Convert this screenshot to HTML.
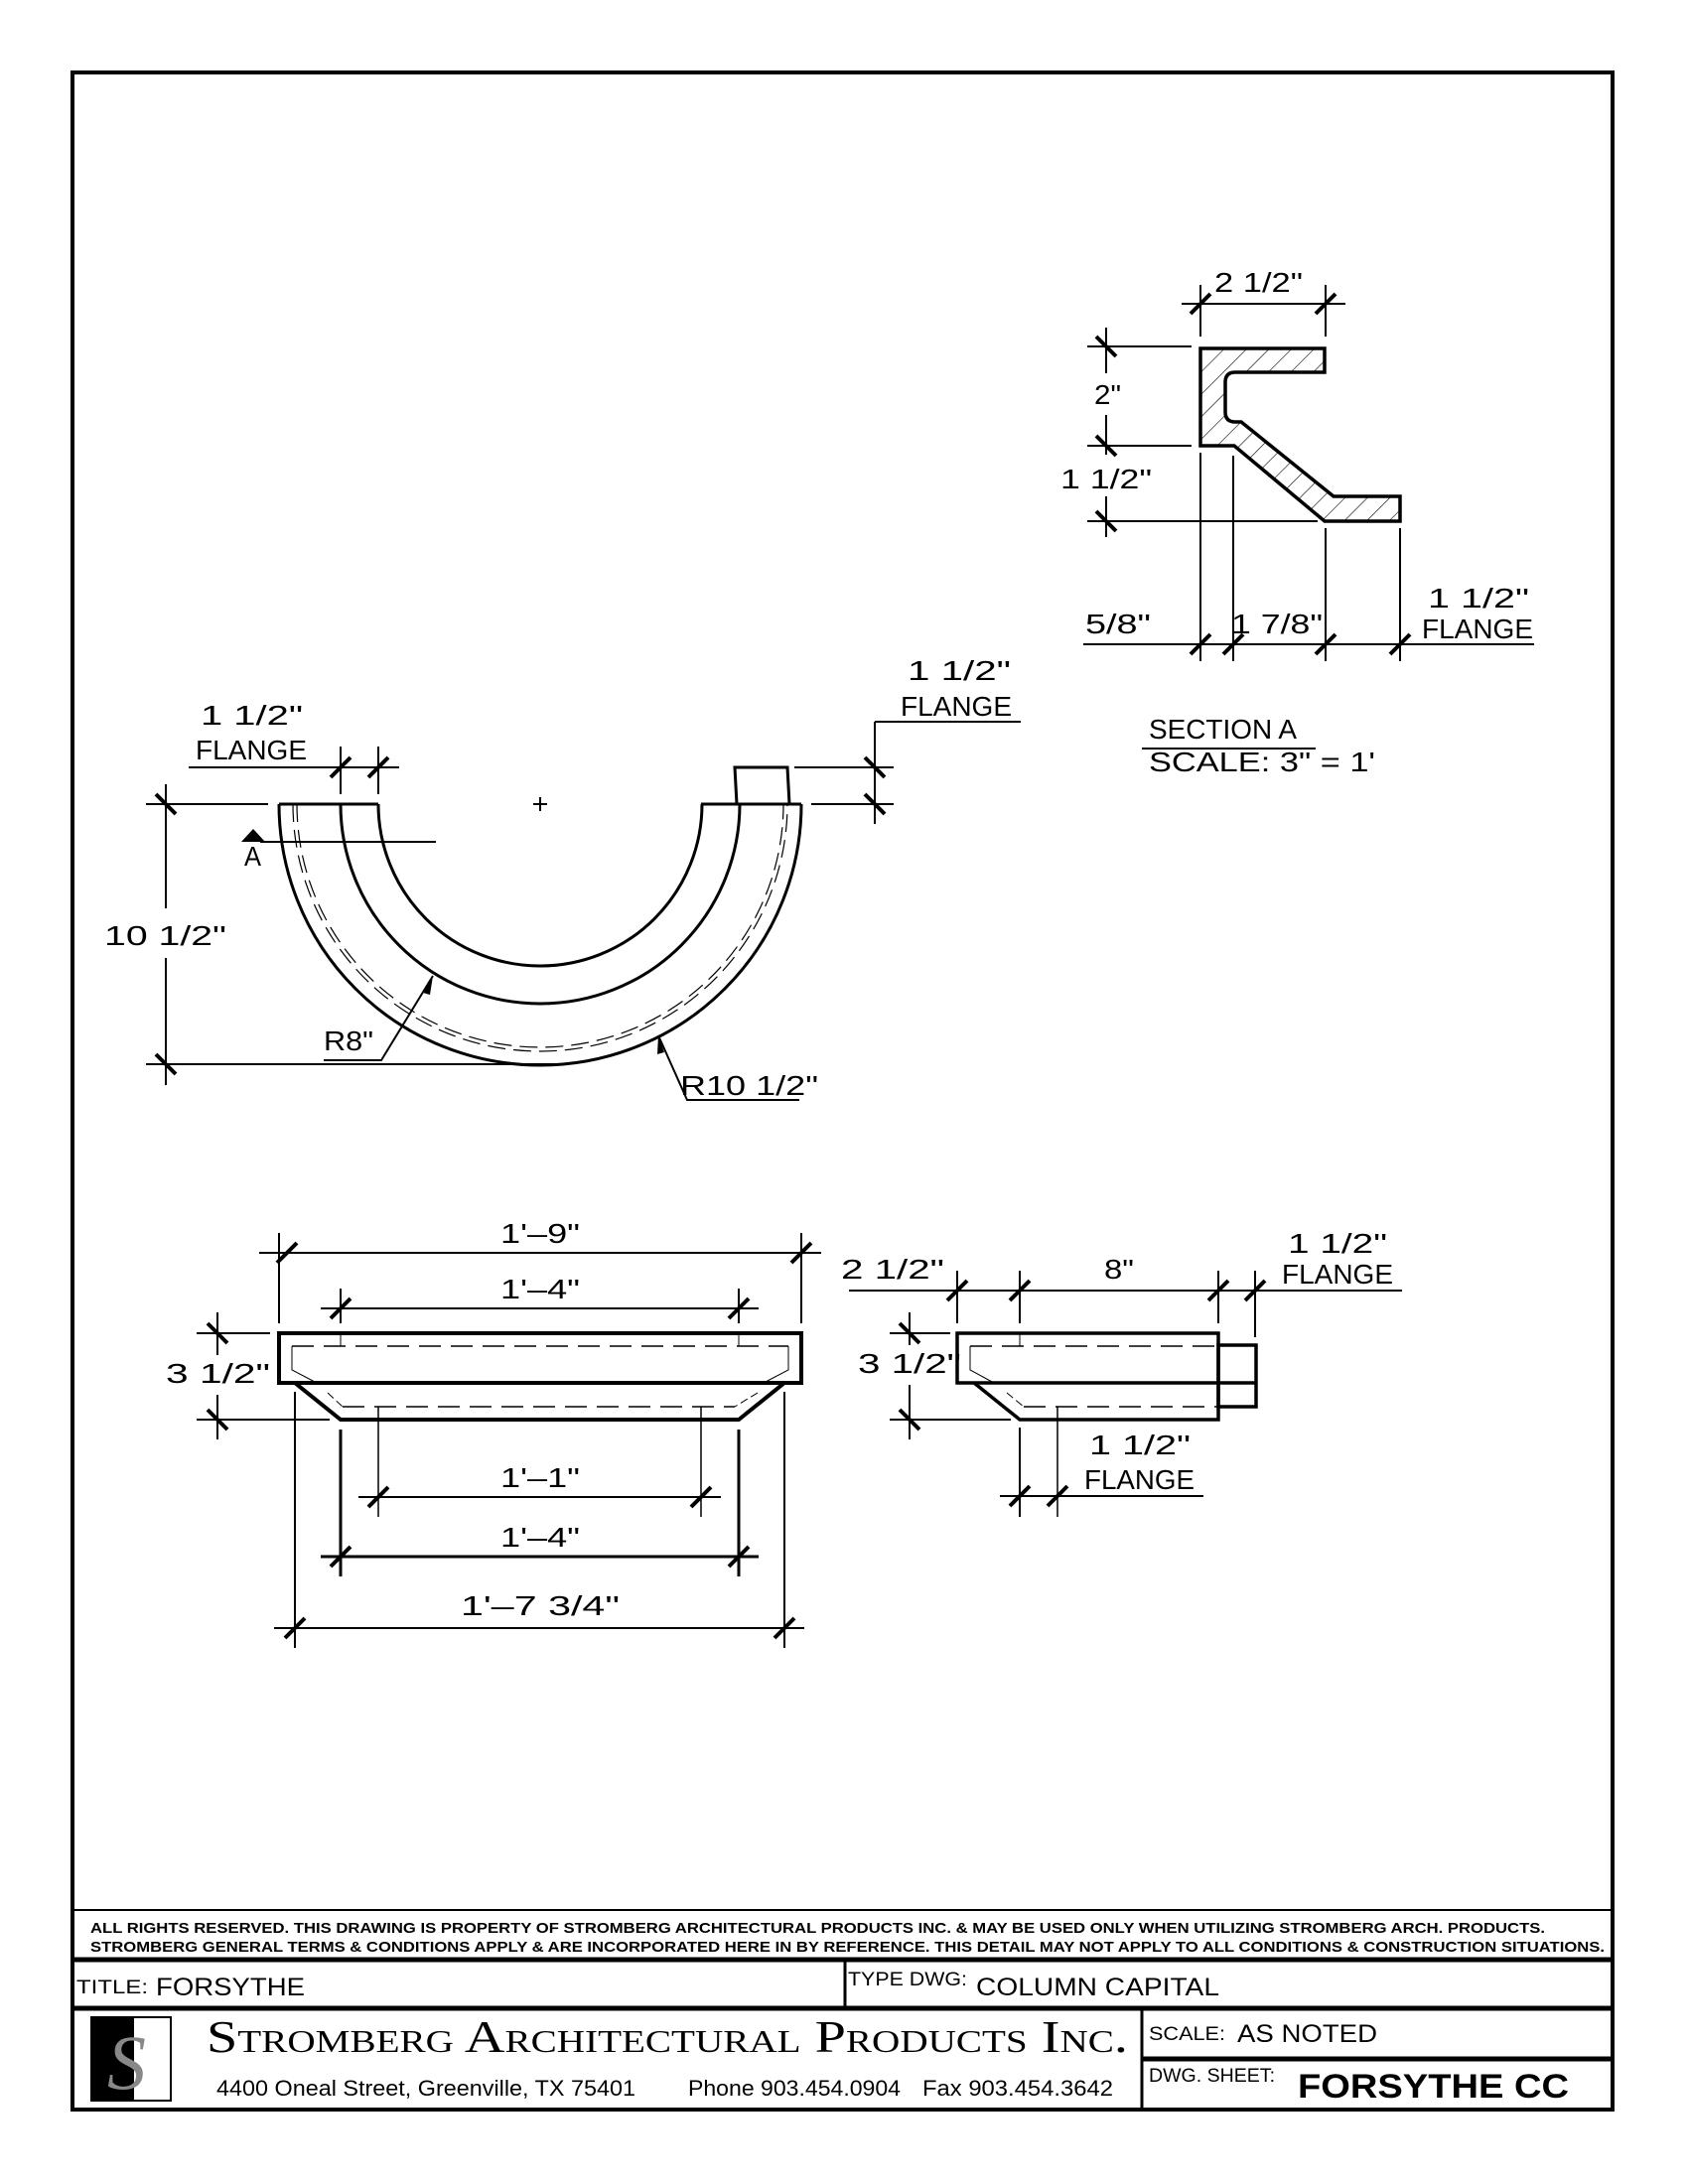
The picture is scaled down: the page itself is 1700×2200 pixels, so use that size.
<!DOCTYPE html>
<html><head><meta charset="utf-8"><style>
html,body{margin:0;padding:0;background:#fff}
svg{display:block}
text{font-family:"Liberation Sans",sans-serif;fill:#000}
.t{font-size:28px}
</style></head><body>
<svg width="1700" height="2200" viewBox="0 0 1700 2200" xmlns="http://www.w3.org/2000/svg">
<defs>
<pattern id="h" width="16" height="16" patternUnits="userSpaceOnUse" patternTransform="rotate(45)">
<line x1="0" y1="0" x2="0" y2="16" stroke="#000" stroke-width="1.2"/>
</pattern>
</defs>
<!-- border -->
<rect x="73" y="73" width="1551" height="2052" fill="none" stroke="#000" stroke-width="4"/>

<g stroke="#000" fill="none" stroke-linecap="butt">
<!-- ===== SECTION A ===== -->
<path d="M1209,351 L1334,351 L1334,375 L1244,375 Q1234,375 1234,385 L1234,415 Q1234,425 1244,425 L1250,425 L1343,500 L1410,500 L1410,525 L1334,525 L1243,449 L1209,449 Z" fill="url(#h)" stroke-width="3.5"/>
<!-- top dim -->
<line x1="1190" y1="306" x2="1355" y2="306" stroke-width="2"/>
<line x1="1209" y1="287" x2="1209" y2="339" stroke-width="2"/>
<line x1="1335" y1="287" x2="1335" y2="339" stroke-width="2"/>
<!-- left dim -->
<line x1="1114" y1="330" x2="1114" y2="376" stroke-width="2"/>
<line x1="1114" y1="418" x2="1114" y2="458" stroke-width="2"/>
<line x1="1114" y1="500" x2="1114" y2="541" stroke-width="2"/>
<line x1="1095" y1="349" x2="1200" y2="349" stroke-width="2"/>
<line x1="1095" y1="449" x2="1200" y2="449" stroke-width="2"/>
<line x1="1095" y1="525" x2="1327" y2="525" stroke-width="2"/>
<!-- bottom dim -->
<line x1="1091" y1="649" x2="1545" y2="649" stroke-width="2"/>
<line x1="1209" y1="456" x2="1209" y2="666" stroke-width="2"/>
<line x1="1242" y1="459" x2="1242" y2="666" stroke-width="2"/>
<line x1="1335" y1="532" x2="1335" y2="666" stroke-width="2"/>
<line x1="1410" y1="532" x2="1410" y2="666" stroke-width="2"/>
<line x1="1150" y1="754" x2="1325" y2="754" stroke-width="2"/>

<!-- ===== PLAN ===== -->
<path d="M281,810 A263,263 0 0 0 807,810" stroke-width="3"/>
<path d="M343,810 A201,201 0 0 0 745,810" stroke-width="3"/>
<path d="M381,810 A163,163 0 0 0 707,810" stroke-width="3"/>
<path d="M295,810 A249,249 0 0 0 793,810" stroke-width="1.2" stroke-dasharray="18 8"/>
<path d="M299,810 A245,245 0 0 0 789,810" stroke-width="1.2" stroke-dasharray="18 8"/>
<line x1="281" y1="810" x2="381" y2="810" stroke-width="3"/>
<line x1="706" y1="810" x2="807" y2="810" stroke-width="3"/>
<path d="M742,810 L740,773 L793,773 L795,810" stroke-width="3"/>
<!-- plus -->
<line x1="544" y1="803" x2="544" y2="817" stroke-width="2"/>
<line x1="537" y1="810" x2="551" y2="810" stroke-width="2"/>
<!-- section marker -->
<line x1="262" y1="848" x2="439" y2="848" stroke-width="2"/>
<polygon points="243,848 255,835 267,848" fill="#000" stroke="none"/>
<!-- left flange dim -->
<line x1="190" y1="773" x2="402" y2="773" stroke-width="2"/>
<line x1="343" y1="752" x2="343" y2="800" stroke-width="2"/>
<line x1="381" y1="752" x2="381" y2="800" stroke-width="2"/>
<!-- 10 1/2 -->
<line x1="147" y1="810" x2="270" y2="810" stroke-width="2"/>
<line x1="147" y1="1072" x2="570" y2="1072" stroke-width="2"/>
<line x1="167" y1="790" x2="167" y2="915" stroke-width="2"/>
<line x1="167" y1="965" x2="167" y2="1093" stroke-width="2"/>
<!-- right flange dim -->
<line x1="800" y1="773" x2="900" y2="773" stroke-width="2"/>
<line x1="817" y1="810" x2="900" y2="810" stroke-width="2"/>
<line x1="881" y1="727" x2="881" y2="830" stroke-width="2"/>
<line x1="881" y1="727" x2="1028" y2="727" stroke-width="2"/>
<!-- R leaders -->
<polyline points="326,1068 384,1068 436,983" stroke-width="2"/>
<polyline points="663,1043 692,1108 805,1108" stroke-width="2"/>
<polygon points="436,983 426,1000 433,1002" fill="#000" stroke="none"/>
<polygon points="663,1043 662,1062 669,1060" fill="#000" stroke="none"/>

<!-- ===== FRONT VIEW ===== -->
<rect x="281" y="1343" width="526" height="50" stroke-width="4"/>
<polyline points="297,1393 343,1430 744,1430 790,1393" stroke-width="4"/>
<line x1="294" y1="1356" x2="794" y2="1356" stroke-width="1.5" stroke-dasharray="22 10"/>
<polyline points="294,1356 294,1380 319,1393" stroke-width="1"/>
<polyline points="794,1356 794,1380 769,1393" stroke-width="1"/>
<line x1="343" y1="1343" x2="343" y2="1356" stroke-width="1"/>
<line x1="744" y1="1343" x2="744" y2="1356" stroke-width="1"/>
<line x1="345" y1="1417" x2="740" y2="1417" stroke-width="1.5" stroke-dasharray="22 10"/>
<line x1="330" y1="1403" x2="345" y2="1417" stroke-width="1" stroke-dasharray="8 4"/>
<line x1="763" y1="1403" x2="740" y2="1417" stroke-width="1" stroke-dasharray="8 4"/>
<line x1="381" y1="1417" x2="381" y2="1528" stroke-width="1.5"/>
<line x1="706" y1="1417" x2="706" y2="1528" stroke-width="1.5"/>
<!-- dims -->
<line x1="261" y1="1262" x2="827" y2="1262" stroke-width="2"/>
<line x1="281" y1="1242" x2="281" y2="1333" stroke-width="2"/>
<line x1="807" y1="1242" x2="807" y2="1333" stroke-width="2"/>
<line x1="323" y1="1318" x2="764" y2="1318" stroke-width="2"/>
<line x1="343" y1="1298" x2="343" y2="1333" stroke-width="2"/>
<line x1="744" y1="1298" x2="744" y2="1333" stroke-width="2"/>
<line x1="219" y1="1322" x2="219" y2="1365" stroke-width="2"/>
<line x1="219" y1="1405" x2="219" y2="1450" stroke-width="2"/>
<line x1="198" y1="1343" x2="272" y2="1343" stroke-width="2"/>
<line x1="198" y1="1430" x2="332" y2="1430" stroke-width="2"/>
<line x1="343" y1="1440" x2="343" y2="1588" stroke-width="3"/>
<line x1="744" y1="1440" x2="744" y2="1588" stroke-width="3"/>
<line x1="297" y1="1402" x2="297" y2="1660" stroke-width="2"/>
<line x1="790" y1="1402" x2="790" y2="1660" stroke-width="2"/>
<line x1="361" y1="1508" x2="726" y2="1508" stroke-width="2"/>
<line x1="323" y1="1568" x2="764" y2="1568" stroke-width="3"/>
<line x1="276" y1="1640" x2="810" y2="1640" stroke-width="2"/>

<!-- ===== SIDE VIEW ===== -->
<rect x="964" y="1343" width="263" height="50" stroke-width="3.5"/>
<polyline points="981,1393 1027,1430 1227,1430 1227,1393" stroke-width="3.5"/>
<rect x="1227" y="1355" width="38" height="62" stroke-width="3.5"/>
<line x1="1227" y1="1393" x2="1265" y2="1393" stroke-width="3.5"/>
<line x1="977" y1="1356" x2="1227" y2="1356" stroke-width="1.5" stroke-dasharray="22 10"/>
<polyline points="977,1356 977,1380 1001,1393" stroke-width="1"/>
<line x1="1027" y1="1343" x2="1027" y2="1356" stroke-width="1"/>
<line x1="1031" y1="1417" x2="1227" y2="1417" stroke-width="1.5" stroke-dasharray="22 10"/>
<line x1="1014" y1="1403" x2="1031" y2="1417" stroke-width="1" stroke-dasharray="8 4"/>
<line x1="1065" y1="1417" x2="1065" y2="1528" stroke-width="1.5"/>
<line x1="1027" y1="1438" x2="1027" y2="1528" stroke-width="2"/>
<line x1="855" y1="1300" x2="1412" y2="1300" stroke-width="2"/>
<line x1="964" y1="1280" x2="964" y2="1333" stroke-width="2"/>
<line x1="1027" y1="1280" x2="1027" y2="1333" stroke-width="2"/>
<line x1="1227" y1="1280" x2="1227" y2="1333" stroke-width="2"/>
<line x1="1264" y1="1280" x2="1264" y2="1347" stroke-width="2"/>
<line x1="916" y1="1322" x2="916" y2="1355" stroke-width="2"/>
<line x1="916" y1="1395" x2="916" y2="1450" stroke-width="2"/>
<line x1="896" y1="1343" x2="957" y2="1343" stroke-width="2"/>
<line x1="896" y1="1430" x2="1018" y2="1430" stroke-width="2"/>
<line x1="1007" y1="1507" x2="1212" y2="1507" stroke-width="2"/>
</g>

<!-- ticks -->
<g stroke="#000" stroke-width="4">
<!-- horizontal dims "/" -->
<path d="M1199,316 L1219,296 M1325,316 L1345,296
M1199,659 L1219,639 M1232,659 L1252,639 M1325,659 L1345,639 M1400,659 L1420,639
M333,783 L353,763 M371,783 L391,763
M279,1272 L299,1252 M797,1272 L817,1252
M333,1328 L353,1308 M734,1328 L754,1308
M371,1518 L391,1498 M696,1518 L716,1498
M333,1578 L353,1558 M734,1578 L754,1558
M287,1650 L307,1630 M780,1650 L800,1630
M954,1310 L974,1290 M1017,1310 L1037,1290 M1217,1310 L1237,1290 M1254,1310 L1274,1290
M1017,1517 L1037,1497 M1055,1517 L1075,1497"/>
<!-- vertical dims "\" -->
<path d="M1104,339 L1124,359 M1104,439 L1124,459 M1104,515 L1124,535
M157,800 L177,820 M157,1062 L177,1082
M871,763 L891,783 M871,800 L891,820
M209,1333 L229,1353 M209,1420 L229,1440
M906,1333 L926,1353 M906,1420 L926,1440"/>
</g>

<!-- ===== TEXT ===== -->
<g class="t">
<text x="1223" y="294" textLength="89" lengthAdjust="spacingAndGlyphs">2 1/2"</text>
<text x="1102" y="407" textLength="27" lengthAdjust="spacingAndGlyphs">2"</text>
<text x="1068" y="492" textLength="92" lengthAdjust="spacingAndGlyphs">1 1/2"</text>
<text x="1093" y="638" textLength="66" lengthAdjust="spacingAndGlyphs">5/8"</text>
<text x="1240" y="638" textLength="92" lengthAdjust="spacingAndGlyphs">1 7/8"</text>
<text x="1438" y="612" textLength="102" lengthAdjust="spacingAndGlyphs">1 1/2"</text>
<text x="1432" y="643" textLength="112" lengthAdjust="spacingAndGlyphs">FLANGE</text>
<text x="1157" y="744" textLength="149" lengthAdjust="spacingAndGlyphs">SECTION  A</text>
<text x="1157" y="777" textLength="228" lengthAdjust="spacingAndGlyphs">SCALE:  3"  =  1'</text>

<text x="914" y="685" textLength="104" lengthAdjust="spacingAndGlyphs">1 1/2"</text>
<text x="907" y="721" textLength="112" lengthAdjust="spacingAndGlyphs">FLANGE</text>
<text x="202" y="730" textLength="103" lengthAdjust="spacingAndGlyphs">1 1/2"</text>
<text x="197" y="765" textLength="112" lengthAdjust="spacingAndGlyphs">FLANGE</text>
<text x="246" y="872" textLength="17" lengthAdjust="spacingAndGlyphs">A</text>
<text x="105" y="952" textLength="123" lengthAdjust="spacingAndGlyphs">10 1/2"</text>
<text x="326" y="1058" textLength="50" lengthAdjust="spacingAndGlyphs">R8"</text>
<text x="685" y="1103" textLength="139" lengthAdjust="spacingAndGlyphs">R10 1/2"</text>

<text x="504" y="1252" textLength="80" lengthAdjust="spacingAndGlyphs">1'–9"</text>
<text x="504" y="1308" textLength="80" lengthAdjust="spacingAndGlyphs">1'–4"</text>
<text x="167" y="1393" textLength="105" lengthAdjust="spacingAndGlyphs">3 1/2"</text>
<text x="504" y="1498" textLength="80" lengthAdjust="spacingAndGlyphs">1'–1"</text>
<text x="504" y="1558" textLength="80" lengthAdjust="spacingAndGlyphs">1'–4"</text>
<text x="464" y="1627" textLength="160" lengthAdjust="spacingAndGlyphs">1'–7  3/4"</text>

<text x="847" y="1288" textLength="104" lengthAdjust="spacingAndGlyphs">2 1/2"</text>
<text x="1112" y="1288" textLength="30" lengthAdjust="spacingAndGlyphs">8"</text>
<text x="1297" y="1262" textLength="100" lengthAdjust="spacingAndGlyphs">1 1/2"</text>
<text x="1291" y="1293" textLength="112" lengthAdjust="spacingAndGlyphs">FLANGE</text>
<text x="864" y="1383" textLength="104" lengthAdjust="spacingAndGlyphs">3 1/2"</text>
<text x="1097" y="1465" textLength="102" lengthAdjust="spacingAndGlyphs">1 1/2"</text>
<text x="1092" y="1500" textLength="111" lengthAdjust="spacingAndGlyphs">FLANGE</text>
</g>

<!-- ===== TITLE BLOCK ===== -->
<g stroke="#000">
<line x1="73" y1="1924" x2="1624" y2="1924" stroke-width="2"/>
<line x1="73" y1="1974" x2="1624" y2="1974" stroke-width="5"/>
<line x1="73" y1="2023" x2="1624" y2="2023" stroke-width="5"/>
<line x1="851" y1="1974" x2="851" y2="2023" stroke-width="3"/>
<line x1="1150" y1="2023" x2="1150" y2="2125" stroke-width="3"/>
<line x1="1150" y1="2074" x2="1624" y2="2074" stroke-width="5"/>
<rect x="92" y="2032" width="80" height="84" fill="#fff" stroke-width="2"/>
</g>
<rect x="92" y="2032" width="43" height="84" fill="#000"/>
<text x="108" y="2104" style="font-family:'Liberation Serif',serif;font-size:78px;font-style:italic;fill:#888">S</text>
<g style="font-family:'Liberation Sans',sans-serif;font-weight:bold">
<text x="91" y="1947" font-size="15" textLength="1465" lengthAdjust="spacingAndGlyphs">ALL RIGHTS RESERVED. THIS DRAWING IS PROPERTY OF STROMBERG ARCHITECTURAL PRODUCTS INC. &amp; MAY BE USED ONLY WHEN UTILIZING STROMBERG ARCH. PRODUCTS.</text>
<text x="91" y="1966" font-size="15" textLength="1525" lengthAdjust="spacingAndGlyphs">STROMBERG GENERAL TERMS &amp; CONDITIONS APPLY &amp; ARE INCORPORATED HERE IN BY REFERENCE. THIS DETAIL MAY NOT APPLY TO ALL CONDITIONS &amp; CONSTRUCTION SITUATIONS.</text>
</g>
<g style="font-family:'Liberation Sans',sans-serif">
<text x="77" y="2008" font-size="19" textLength="72" lengthAdjust="spacingAndGlyphs">TITLE:</text>
<text x="157" y="2010" font-size="25" textLength="150" lengthAdjust="spacingAndGlyphs">FORSYTHE</text>
<text x="854" y="2000" font-size="19" textLength="120" lengthAdjust="spacingAndGlyphs">TYPE DWG:</text>
<text x="983" y="2010" font-size="25" textLength="245" lengthAdjust="spacingAndGlyphs">COLUMN CAPITAL</text>
<text x="1157" y="2055" font-size="19" textLength="77" lengthAdjust="spacingAndGlyphs">SCALE:</text>
<text x="1246" y="2057" font-size="25" textLength="141" lengthAdjust="spacingAndGlyphs">AS NOTED</text>
<text x="1157" y="2097" font-size="19" textLength="127" lengthAdjust="spacingAndGlyphs">DWG. SHEET:</text>
<text x="1307" y="2113" font-size="34" font-weight="bold" textLength="273" lengthAdjust="spacingAndGlyphs">FORSYTHE CC</text>
<text x="218" y="2111" font-size="22" textLength="422" lengthAdjust="spacingAndGlyphs">4400 Oneal Street, Greenville, TX  75401</text>
<text x="693" y="2111" font-size="22" textLength="214" lengthAdjust="spacingAndGlyphs">Phone 903.454.0904</text>
<text x="929" y="2111" font-size="22" textLength="192" lengthAdjust="spacingAndGlyphs">Fax 903.454.3642</text>
</g>
<text x="208" y="2067" style="font-family:'Liberation Serif',serif;font-size:46px;font-variant:small-caps" textLength="928" lengthAdjust="spacingAndGlyphs">Stromberg Architectural Products Inc.</text>
</svg>
</body></html>
